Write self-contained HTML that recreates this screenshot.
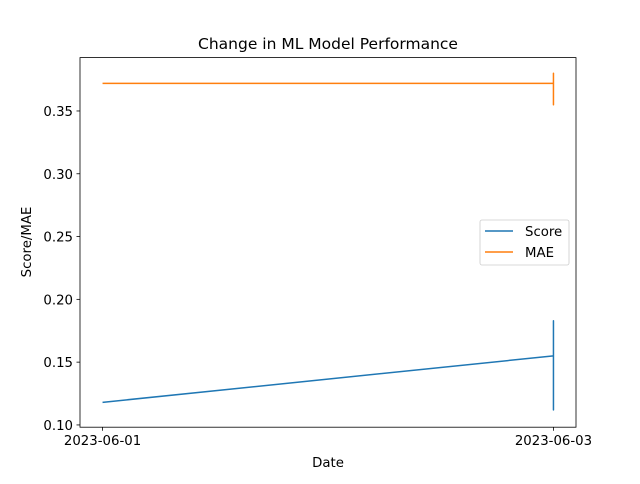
<!DOCTYPE html>
<html><head><meta charset="utf-8"><style>
body{margin:0;background:#fff;font-family:"DejaVu Sans","Liberation Sans",sans-serif}
svg text{font-family:"DejaVu Sans","Liberation Sans",sans-serif;fill:#000}
</style></head><body>
<svg id="c" width="640" height="480" xmlns="http://www.w3.org/2000/svg"></svg>
<script>
const dayOffsets=[0,2,2,2,2];
const scoreValues=[0.118,0.155,0.183,0.112,0.155];
const maeValues=[0.372,0.372,0.380,0.355,0.372];
const yTicks=[0.10,0.15,0.20,0.25,0.30,0.35];
const xTickDays=[0,2];
const xTickLabels=["2023-06-01","2023-06-03"];
const L=80,R=576,T=57.6,B=427.2;
const xMin=-0.1,xMax=2.1,yMin=0.0982,yMax=0.3925;
const xs=d=>L+(d-xMin)/(xMax-xMin)*(R-L);
const ys=v=>B-(v-yMin)/(yMax-yMin)*(B-T);
const svg=document.getElementById('c');
const NS='http://www.w3.org/2000/svg';
function mk(tag,attrs,name,parent){const e=document.createElementNS(NS,tag);for(const k in attrs)e.setAttribute(k,attrs[k]);


(parent||svg).appendChild(e);return e;}
yTicks.forEach(v=>{const y=ys(v);
mk('line',{x1:L-3.5,x2:L,y1:y,y2:y,stroke:'#000','stroke-width':0.8},'y-tick');
const t=mk('text',{x:L-7,y:y+5,'text-anchor':'end','font-size':13.3},'y-tick-label');t.textContent=v.toFixed(2);});
xTickDays.forEach((d,i)=>{const x=xs(d);
mk('line',{x1:x,x2:x,y1:B,y2:B+3.5,stroke:'#000','stroke-width':0.8},'x-tick');
const t=mk('text',{x:x,y:B+18,'text-anchor':'middle','font-size':13.3},'x-tick-label');t.textContent=xTickLabels[i];});
function series(vals,color,name){mk('polyline',{points:vals.map((v,i)=>xs(dayOffsets[i])+','+ys(v)).join(' '),fill:'none',stroke:color,'stroke-width':1.5,'stroke-linejoin':'round'},name);}
series(scoreValues,'#1f77b4','score-line');
series(maeValues,'#ff7f0e','mae-line');
mk('rect',{x:L,y:T,width:R-L,height:B-T,fill:'none',stroke:'#000','stroke-width':0.8},'plot-frame');
let t=mk('text',{x:328,y:49,'text-anchor':'middle','font-size':15.5},'chart-title');t.textContent='Change in ML Model Performance';
t=mk('text',{x:328,y:467,'text-anchor':'middle','font-size':13.3},'x-axis-title');t.textContent='Date';
t=mk('text',{x:31,y:242,'text-anchor':'middle','font-size':13.3,transform:'rotate(-90 31 242)'},'y-axis-title');t.textContent='Score/MAE';
const g=mk('g',{},'legend');
mk('rect',{x:480,y:220,width:89,height:45,rx:2,fill:'#fff','fill-opacity':0.8,stroke:'#ccc','stroke-width':0.8},'legend-box',g);
mk('line',{x1:485,x2:513,y1:231,y2:231,stroke:'#1f77b4','stroke-width':1.5},'legend-score-swatch',g);
t=mk('text',{x:525,y:236,'font-size':13.3},'legend-score-label',g);t.textContent='Score';
mk('line',{x1:485,x2:513,y1:252,y2:252,stroke:'#ff7f0e','stroke-width':1.5},'legend-mae-swatch',g);
t=mk('text',{x:525,y:257,'font-size':13.3},'legend-mae-label',g);t.textContent='MAE';
</script>
</body></html>
